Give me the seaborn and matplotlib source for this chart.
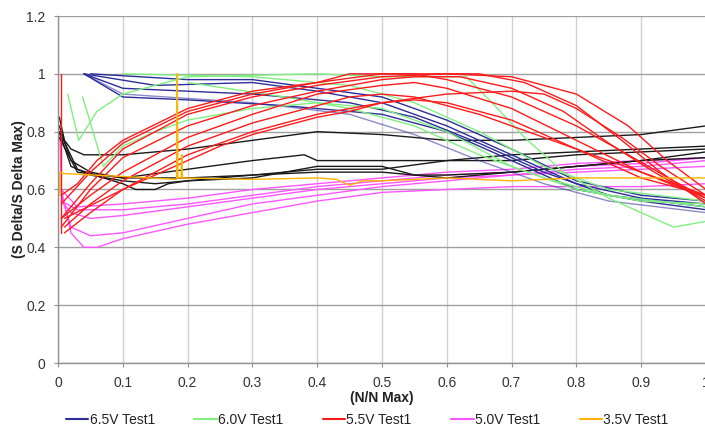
import matplotlib
matplotlib.use("Agg")
import matplotlib.pyplot as plt
import seaborn as sns
import pandas as pd
from matplotlib.lines import Line2D

# ---------------- data ----------------
series_names = ["6.5V Test1", "6.0V Test1", "5.5V Test1", "5.0V Test1", "3.5V Test1"]
x_ticks = [0, 0.1, 0.2, 0.3, 0.4, 0.5, 0.6, 0.7, 0.8, 0.9, 1]
y_ticks = [0, 0.2, 0.4, 0.6, 0.8, 1.0, 1.2]

# 6.5V Test1 (blue) runs: (x values, y values)
runs_65 = [
    ([0.04, 0.1, 0.2, 0.35, 0.5, 0.6, 0.7, 0.8, 0.9, 1.0],
     [1.0, 0.92, 0.91, 0.89, 0.86, 0.8, 0.7, 0.6, 0.56, 0.53]),
    ([0.04, 0.1, 0.3, 0.45, 0.55, 0.65, 0.75, 0.85, 1.0],
     [1.0, 0.95, 0.93, 0.9, 0.85, 0.76, 0.66, 0.58, 0.54]),
    ([0.04, 0.15, 0.3, 0.4, 0.5, 0.6, 0.7, 0.8, 0.9, 1.0],
     [1.0, 0.96, 0.97, 0.94, 0.9, 0.82, 0.72, 0.62, 0.57, 0.55]),
    ([0.05, 0.2, 0.3, 0.4, 0.5, 0.6, 0.7, 0.8, 0.9, 1.0],
     [1.0, 0.98, 0.98, 0.95, 0.92, 0.84, 0.74, 0.63, 0.58, 0.56]),
    ([0.04, 0.1, 0.3, 0.45, 0.55, 0.65, 0.75, 0.85, 1.0],
     [1.0, 0.93, 0.9, 0.86, 0.79, 0.7, 0.62, 0.56, 0.52]),
]

# 6.0V Test1 (green) runs
runs_60 = [
    ([0.015, 0.032, 0.06, 0.1, 0.2, 0.4, 0.5, 0.6, 0.63, 0.67, 0.72, 0.78, 0.85, 0.92, 0.95, 1.0],
     [0.93, 0.77, 0.87, 0.93, 0.99, 1.0, 0.99, 0.99, 0.99, 0.9, 0.78, 0.66, 0.57, 0.5, 0.47, 0.49]),
    ([0.038, 0.07, 0.1, 0.15, 0.2, 0.3, 0.4, 0.5, 0.6, 0.7, 0.8, 0.9, 1.0],
     [0.92, 0.68, 0.75, 0.8, 0.84, 0.88, 0.9, 0.88, 0.8, 0.68, 0.6, 0.56, 0.55]),
    ([0.1, 0.3, 0.45, 0.55, 0.65, 0.75, 0.85, 1.0],
     [1.0, 0.99, 0.96, 0.9, 0.8, 0.68, 0.6, 0.56]),
    ([0.2, 0.35, 0.45, 0.55, 0.65, 0.75, 0.85, 1.0],
     [0.97, 0.92, 0.88, 0.82, 0.72, 0.64, 0.58, 0.54]),
]

# 5.5V Test1 (red) runs
runs_55 = [
    ([0.004, 0.004], [1.0, 0.45]),
    ([0.005, 0.05, 0.1, 0.2, 0.3, 0.4, 0.5, 0.6, 0.65, 0.72, 0.8, 0.87, 0.93, 1.0],
     [0.5, 0.62, 0.74, 0.86, 0.92, 0.96, 0.99, 1.0, 1.0, 0.97, 0.89, 0.77, 0.66, 0.55]),
    ([0.005, 0.05, 0.1, 0.2, 0.3, 0.4, 0.5, 0.55, 0.62, 0.7, 0.78, 0.85, 0.92, 1.0],
     [0.47, 0.6, 0.71, 0.82, 0.89, 0.94, 0.98, 0.99, 0.99, 0.95, 0.87, 0.76, 0.66, 0.56]),
    ([0.005, 0.05, 0.1, 0.2, 0.3, 0.4, 0.45, 0.55, 0.6, 0.7, 0.8, 0.88, 0.95, 1.0],
     [0.55, 0.66, 0.76, 0.87, 0.93, 0.97, 1.0, 1.0, 0.98, 0.92, 0.82, 0.72, 0.63, 0.57]),
    ([0.005, 0.05, 0.1, 0.2, 0.3, 0.4, 0.5, 0.55, 0.6, 0.7, 0.8, 0.9, 1.0],
     [0.5, 0.58, 0.66, 0.78, 0.86, 0.93, 0.96, 0.97, 0.95, 0.88, 0.77, 0.66, 0.57]),
    ([0.01, 0.05, 0.1, 0.2, 0.3, 0.4, 0.45, 0.5, 0.55, 0.65, 0.75, 0.85, 0.95, 1.0],
     [0.47, 0.55, 0.63, 0.75, 0.83, 0.89, 0.92, 0.93, 0.92, 0.86, 0.78, 0.7, 0.62, 0.58]),
    ([0.01, 0.05, 0.1, 0.2, 0.3, 0.4, 0.5, 0.6, 0.7, 0.75, 0.8, 0.87, 0.93, 1.0],
     [0.45, 0.52, 0.6, 0.72, 0.8, 0.86, 0.9, 0.93, 0.94, 0.93, 0.88, 0.78, 0.68, 0.58]),
    ([0.01, 0.1, 0.2, 0.25, 0.3, 0.35, 0.4, 0.45, 0.5, 0.55, 0.6, 0.7, 0.8, 0.9, 1.0],
     [0.5, 0.6, 0.7, 0.75, 0.79, 0.82, 0.85, 0.87, 0.9, 0.91, 0.9, 0.84, 0.74, 0.64, 0.58]),
    ([0.005, 0.03, 0.06, 0.1, 0.2, 0.3, 0.4, 0.5, 0.6, 0.7, 0.8, 0.88, 0.94, 1.0],
     [0.58, 0.62, 0.7, 0.77, 0.88, 0.94, 0.97, 1.0, 1.0, 0.99, 0.93, 0.82, 0.7, 0.6]),
]

# 5.0V Test1 (magenta) runs
runs_50 = [
    ([0.003, 0.005, 0.02, 0.04, 0.06, 0.1, 0.2, 0.3, 0.4, 0.5, 0.6, 0.7, 0.8, 0.9, 1.0],
     [0.8, 0.6, 0.45, 0.4, 0.4, 0.43, 0.48, 0.52, 0.56, 0.59, 0.6, 0.61, 0.61, 0.61, 0.62]),
    ([0.005, 0.02, 0.05, 0.1, 0.2, 0.3, 0.4, 0.5, 0.6, 0.7, 0.8, 0.9, 1.0],
     [0.58, 0.47, 0.44, 0.45, 0.5, 0.55, 0.58, 0.61, 0.63, 0.65, 0.66, 0.67, 0.68]),
    ([0.005, 0.02, 0.05, 0.1, 0.2, 0.3, 0.4, 0.5, 0.6, 0.7, 0.8, 0.9, 1.0],
     [0.56, 0.52, 0.5, 0.51, 0.54, 0.57, 0.6, 0.62, 0.64, 0.65, 0.67, 0.68, 0.7]),
    ([0.005, 0.03, 0.1, 0.2, 0.3, 0.4, 0.5, 0.6, 0.7, 0.8, 0.9, 1.0],
     [0.56, 0.53, 0.53, 0.55, 0.58, 0.61, 0.63, 0.65, 0.66, 0.68, 0.69, 0.71]),
    ([0.005, 0.03, 0.1, 0.2, 0.3, 0.4, 0.5, 0.6, 0.7, 0.8, 0.9, 1.0],
     [0.6, 0.54, 0.55, 0.57, 0.6, 0.62, 0.64, 0.66, 0.67, 0.69, 0.7, 0.71]),
]

# 3.5V Test1 (orange) run
runs_35 = [
    ([0.003, 0.003, 0.01, 0.1, 0.183, 0.184, 0.185, 0.19, 0.191, 0.192, 0.3, 0.4, 0.43, 0.45, 0.47,
      0.5, 0.6, 0.7, 0.8, 0.9, 1.0],
     [0.58, 0.66, 0.655, 0.645, 0.635, 1.0, 0.64, 0.64, 0.72, 0.64, 0.635, 0.64, 0.635, 0.615, 0.63,
      0.63, 0.64, 0.63, 0.64, 0.64, 0.64]),
]

# unlabelled black runs
runs_black = [
    ([0.002, 0.01, 0.02, 0.04, 0.1, 0.2, 0.3, 0.4, 0.5, 0.6, 0.7, 0.8, 0.9, 1.0],
     [0.85, 0.77, 0.74, 0.72, 0.72, 0.74, 0.77, 0.8, 0.79, 0.77, 0.77, 0.78, 0.79, 0.82]),
    ([0.002, 0.02, 0.05, 0.1, 0.2, 0.3, 0.38, 0.4, 0.5, 0.6, 0.7, 0.8, 0.9, 1.0],
     [0.82, 0.7, 0.66, 0.64, 0.67, 0.7, 0.72, 0.7, 0.7, 0.7, 0.72, 0.73, 0.74, 0.75]),
    ([0.002, 0.02, 0.05, 0.1, 0.15, 0.2, 0.3, 0.4, 0.5, 0.6, 0.7, 0.8, 0.9, 1.0],
     [0.8, 0.68, 0.65, 0.63, 0.62, 0.63, 0.65, 0.67, 0.67, 0.7, 0.7, 0.72, 0.73, 0.74]),
    ([0.002, 0.03, 0.07, 0.1, 0.12, 0.15, 0.17, 0.2, 0.3, 0.35, 0.4, 0.5, 0.55, 0.6, 0.7, 0.8, 0.9, 1.0],
     [0.8, 0.67, 0.64, 0.62, 0.6, 0.6, 0.62, 0.63, 0.64, 0.66, 0.68, 0.68, 0.65, 0.65, 0.66, 0.68, 0.7, 0.73]),
    ([0.002, 0.03, 0.1, 0.2, 0.3, 0.4, 0.5, 0.6, 0.7, 0.8, 0.9, 1.0],
     [0.78, 0.66, 0.64, 0.64, 0.65, 0.66, 0.66, 0.64, 0.66, 0.68, 0.7, 0.71]),
]

colors = {"6.5V Test1": "#2e2e9a", "6.0V Test1": "#7ff07f", "5.5V Test1": "#ff1a1a",
          "5.0V Test1": "#ff55ff", "3.5V Test1": "#ffb300", "black": "#1a1a1a"}

# ---------------- build long table ----------------
rows = []
def add(name, runs):
    for i, (xs, ys) in enumerate(runs):
        for j, (xv, yv) in enumerate(zip(xs, ys)):
            rows.append({"series": name, "run": f"{name}-{i}", "order": j, "x": xv, "y": yv})

add("5.0V Test1", runs_50)
add("black", runs_black)
add("6.5V Test1", runs_65)
add("6.0V Test1", runs_60)
add("5.5V Test1", runs_55)
add("3.5V Test1", runs_35)
df = pd.DataFrame(rows)

# ---------------- plot ----------------
sns.set_theme(style="whitegrid")
plt.rcParams["font.family"] = ["Liberation Sans", "DejaVu Sans"]

fig = plt.figure(figsize=(7.05, 4.36), dpi=100)
ax = fig.add_axes([58 / 705, 73 / 436, 648 / 705, 347 / 436])

draw_order = ["5.0V Test1", "black", "6.5V Test1", "6.0V Test1", "5.5V Test1", "3.5V Test1"]
for name in draw_order:
    sub = df[df["series"] == name]
    for run, g in sub.groupby("run", sort=False):
        alpha = 1.0
        if name == "6.5V Test1" and run.endswith("-4"):
            alpha = 0.55
        sns.lineplot(data=g.sort_values("order"), x="x", y="y", sort=False, estimator=None,
                     color=colors[name], lw=1.0, alpha=alpha, ax=ax, legend=False)

ax.set_xlim(0, 1)
ax.set_ylim(0, 1.2)
ax.set_xticks(x_ticks)
ax.set_xticklabels([f"{t:g}" for t in x_ticks])
ax.set_yticks(y_ticks)
ax.set_yticklabels([f"{t:g}" for t in y_ticks])
ax.grid(True, axis="y", color="#a0a0a0", lw=1.0)
ax.grid(True, axis="x", color="#d0d0d0", lw=1.0)
ax.set_facecolor("white")
for side in ["top", "right"]:
    ax.spines[side].set_visible(False)
for side in ["left", "bottom"]:
    ax.spines[side].set_color("#909090")
    ax.spines[side].set_linewidth(1.0)
ax.tick_params(axis="both", labelsize=10, colors="#333333", length=3, width=0.8,
               color="#909090", bottom=True, left=True, pad=6)

ax.set_xlabel("(N/N Max)", fontsize=10, fontweight="bold", color="#222222", labelpad=1)
ax.set_ylabel("(S Delta/S Delta Max)", fontsize=10, fontweight="bold", color="#222222", labelpad=0)

handles = [Line2D([0], [0], color=colors[n], lw=1.5) for n in series_names]
fig.legend(handles, series_names, loc="center", bbox_to_anchor=(0.521, 0.037), ncol=5,
           frameon=False, fontsize=10, handlelength=1.6, handletextpad=0.1, columnspacing=2.85,
           labelcolor="#222222")

fig.savefig("out.png", dpi=100)
